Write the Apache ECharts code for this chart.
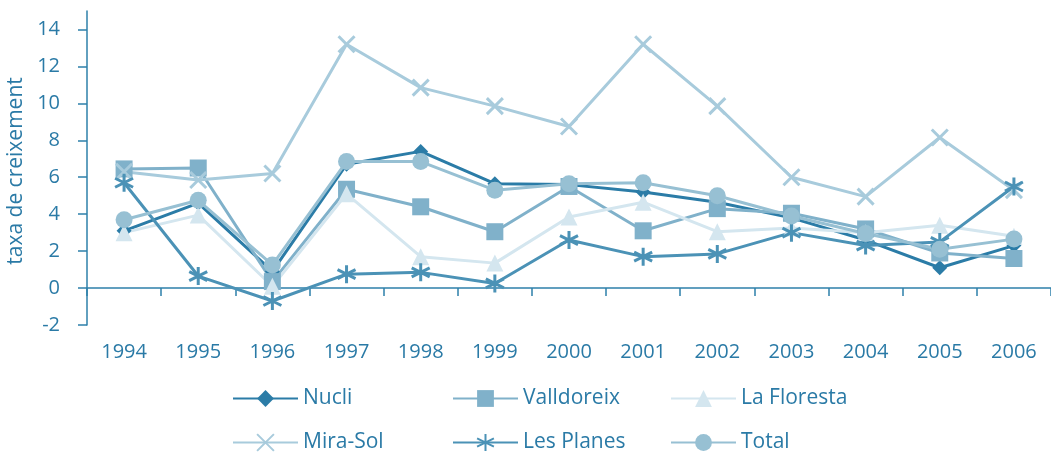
<!DOCTYPE html>
<html>
<head>
<meta charset="utf-8">
<script src="https://cdn.jsdelivr.net/npm/echarts@6/dist/echarts.min.js"></script>
<style>
  html, body { margin: 0; padding: 0; background: #fff; }
  #chart { width: 1051px; height: 452px; }
</style>
</head>
<body>
<div id="chart"></div>
<script>
// anys i valors llegits del gràfic
const years = ['1994', '1995', '1996', '1997', '1998', '1999', '2000', '2001', '2002', '2003', '2004', '2005', '2006']
const yTicks = [-2, 0, 2, 4, 6, 8, 10, 12, 14]

const nucli = [3.1, 4.6, 0.9, 6.7, 7.4, 5.65, 5.6, 5.2, 4.65, 3.8, 2.6, 1.1, 2.3]
const valldoreix = [6.45, 6.5, 0.35, 5.35, 4.4, 3.05, 5.5, 3.1, 4.3, 4.05, 3.2, 1.9, 1.6]
const laFloresta = [3.0, 3.95, 0.1, 5.1, 1.7, 1.35, 3.85, 4.65, 3.05, 3.25, 3.0, 3.4, 2.8]
const miraSol = [6.3, 5.85, 6.2, 13.2, 10.85, 9.85, 8.75, 13.2, 9.85, 6.0, 4.95, 8.15, 5.3]
const lesPlanes = [5.7, 0.65, -0.7, 0.75, 0.85, 0.25, 2.6, 1.7, 1.85, 3.0, 2.3, 2.5, 5.5]
const total = [3.7, 4.75, 1.25, 6.85, 6.85, 5.3, 5.65, 5.7, 5.0, 3.9, 2.95, 2.1, 2.65]

const textColor = '#2a7aa6'
const axisColor = '#2e80aa'
const fontFamily = '"Open Sans", sans-serif'

const xPath = 'path://M0,0L10,10M10,0L0,10'
const starPath = 'path://M5,0L5,10M0.67,2.5L9.33,7.5M0.67,7.5L9.33,2.5'

function makeSeries(name, data, color, symbol, size, stroke) {
  const s = {
    name: name,
    type: 'line',
    data: data,
    symbol: symbol,
    symbolSize: size,
    lineStyle: { color: color, width: 3 },
    itemStyle: { color: color, opacity: 1 },
    emphasis: { disabled: true },
    animation: false
  }
  if (stroke) {
    s.itemStyle.borderColor = color
    s.itemStyle.borderWidth = 3
  }
  return s
}

const chart = echarts.init(document.getElementById('chart'))

const legendBase = {
  itemWidth: 65,
  itemHeight: 21,
  itemGap: 0,
  padding: 0,
  textStyle: { color: textColor, fontSize: 21, fontFamily: fontFamily }
}
function legendAt(name, left, top) {
  return Object.assign({}, legendBase, { data: [name], left: left, top: top })
}

const option = {
  backgroundColor: '#fff',
  grid: { left: 87, right: 0, top: 11, bottom: 127, containLabel: false, outerBoundsMode: 'none' },
  legend: [
    legendAt('Nucli', 232, 388),
    legendAt('Valldoreix', 452, 388),
    legendAt('La Floresta', 670, 388),
    legendAt('Mira-Sol', 232, 432),
    legendAt('Les Planes', 452, 432),
    legendAt('Total', 670, 432)
  ],
  xAxis: [
    {
      type: 'category',
      data: years,
      position: 'bottom',
      axisLine: { show: false, onZero: false },
      axisTick: { show: false },
      axisLabel: { color: textColor, fontSize: 20, fontFamily: fontFamily, margin: 17 }
    },
    {
      type: 'category',
      data: years,
      position: 'bottom',
      axisLine: { show: true, onZero: true, lineStyle: { color: axisColor, width: 1.5 } },
      axisTick: { show: true, length: 8, lineStyle: { color: axisColor, width: 1.5 } },
      axisLabel: { show: false }
    }
  ],
  yAxis: {
    type: 'value',
    min: -2,
    max: 15,
    name: 'taxa de creixement',
    nameLocation: 'middle',
    nameGap: 57,
    nameTextStyle: { color: textColor, fontSize: 21, fontFamily: fontFamily, padding: [0, 6, 0, 0] },
    splitLine: { show: false },
    axisLine: { show: true, lineStyle: { color: axisColor, width: 1.5 } },
    axisTick: { show: true, length: 9, customValues: yTicks, lineStyle: { color: axisColor, width: 1.5 } },
    axisLabel: { color: textColor, fontSize: 20, fontFamily: fontFamily, margin: 27, customValues: yTicks }
  },
  series: [
    makeSeries('Nucli', nucli, '#2b7ca7', 'diamond', 15),
    makeSeries('Valldoreix', valldoreix, '#80b1ca', 'rect', 17),
    makeSeries('La Floresta', laFloresta, '#d4e6ef', 'triangle', 17),
    makeSeries('Mira-Sol', miraSol, '#a8cbdc', xPath, 16, true),
    makeSeries('Les Planes', lesPlanes, '#4b92b6', starPath, 18, true),
    makeSeries('Total', total, '#97c0d3', 'circle', 17)
  ]
}

chart.setOption(option)
</script>
</body>
</html>
